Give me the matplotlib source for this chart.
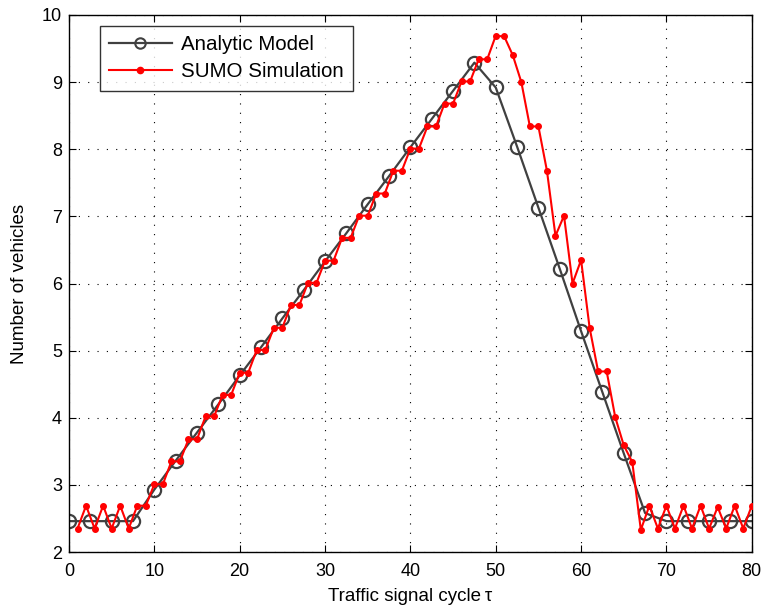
import matplotlib
matplotlib.use("Agg")
import matplotlib.pyplot as plt
import numpy as np

plt.rcParams['font.family'] = ['Liberation Sans', 'DejaVu Sans']

# Analytic model, sampled every 2.5 cycles
analytic_x = np.arange(0, 80.01, 2.5)
analytic_y = [2.46, 2.46, 2.46, 2.46, 2.93, 3.36, 3.78, 4.20, 4.63, 5.05,
              5.48, 5.90, 6.33, 6.75, 7.18, 7.60, 8.03, 8.45, 8.87, 9.29,
              8.92, 8.04, 7.13, 6.22, 5.29, 4.38, 3.47, 2.58, 2.46, 2.46,
              2.46, 2.46, 2.46]

# SUMO simulation, one sample per cycle
sumo_x = np.arange(1, 81)
sumo_y = [2.35, 2.69, 2.35, 2.69, 2.35, 2.69, 2.35, 2.69, 2.69, 3.01,
          3.01, 3.35, 3.35, 3.68, 3.68, 4.02, 4.02, 4.34, 4.34, 4.67,
          4.67, 5.01, 5.01, 5.34, 5.34, 5.68, 5.68, 6.01, 6.01, 6.34,
          6.34, 6.68, 6.68, 7.01, 7.01, 7.34, 7.34, 7.68, 7.68, 8.01,
          8.01, 8.34, 8.34, 8.68, 8.68, 9.01, 9.01, 9.34, 9.34, 9.69,
          9.68, 9.40, 9.00, 8.34, 8.34, 7.68, 6.71, 7.01, 6.00, 6.35,
          5.34, 4.69, 4.69, 4.01, 3.59, 3.34, 2.33, 2.69, 2.35, 2.69,
          2.35, 2.69, 2.35, 2.69, 2.35, 2.67, 2.35, 2.69, 2.35, 2.69]

fig = plt.figure(figsize=(7.64, 6.12), dpi=100)
ax = fig.add_axes([0.0903, 0.098, 0.8937, 0.8775])

ax.plot(analytic_x, analytic_y, color='#404040', lw=1.6, marker='o',
        markersize=9.5, markerfacecolor='none', markeredgecolor='#404040',
        markeredgewidth=1.6, label='Analytic Model', zorder=2)
ax.plot(sumo_x, sumo_y, color='red', lw=1.5, marker='o', markersize=4,
        markerfacecolor='red', markeredgecolor='red', label='SUMO Simulation',
        zorder=3)

ax.set_xlim(0, 80)
ax.set_ylim(2, 10)
ax.set_xticks(np.arange(0, 81, 10))
ax.set_yticks(np.arange(2, 11, 1))
ax.tick_params(direction='in', top=True, right=True, labelsize=13, length=5)
ax.tick_params(axis='x', pad=8)
ax.tick_params(axis='y', pad=5)
ax.grid(True, color='black', linestyle=(0, (1, 7.4)), linewidth=0.8)
ax.set_axisbelow(True)
for s in ax.spines.values():
    s.set_linewidth(1.0)

ax.set_xlabel('Traffic signal cycle\u2009τ', fontsize=13.5, labelpad=6)
ax.set_ylabel('Number of vehicles', fontsize=13.5, labelpad=10)

leg = ax.legend(loc='upper left', bbox_to_anchor=(0.045, 0.9795),
                borderaxespad=0, fontsize=14.8, frameon=True, fancybox=False,
                edgecolor='black', handlelength=3.05, borderpad=0.45,
                labelspacing=0.4, handletextpad=0.45)
leg.get_frame().set_linewidth(1.0)
for h in leg.legend_handles:
    if h.get_label() == 'Analytic Model':
        h.set_markersize(7.5)
        h.set_markeredgewidth(1.5)
    else:
        h.set_markersize(4.5)

fig.savefig('out.png', dpi=100)
